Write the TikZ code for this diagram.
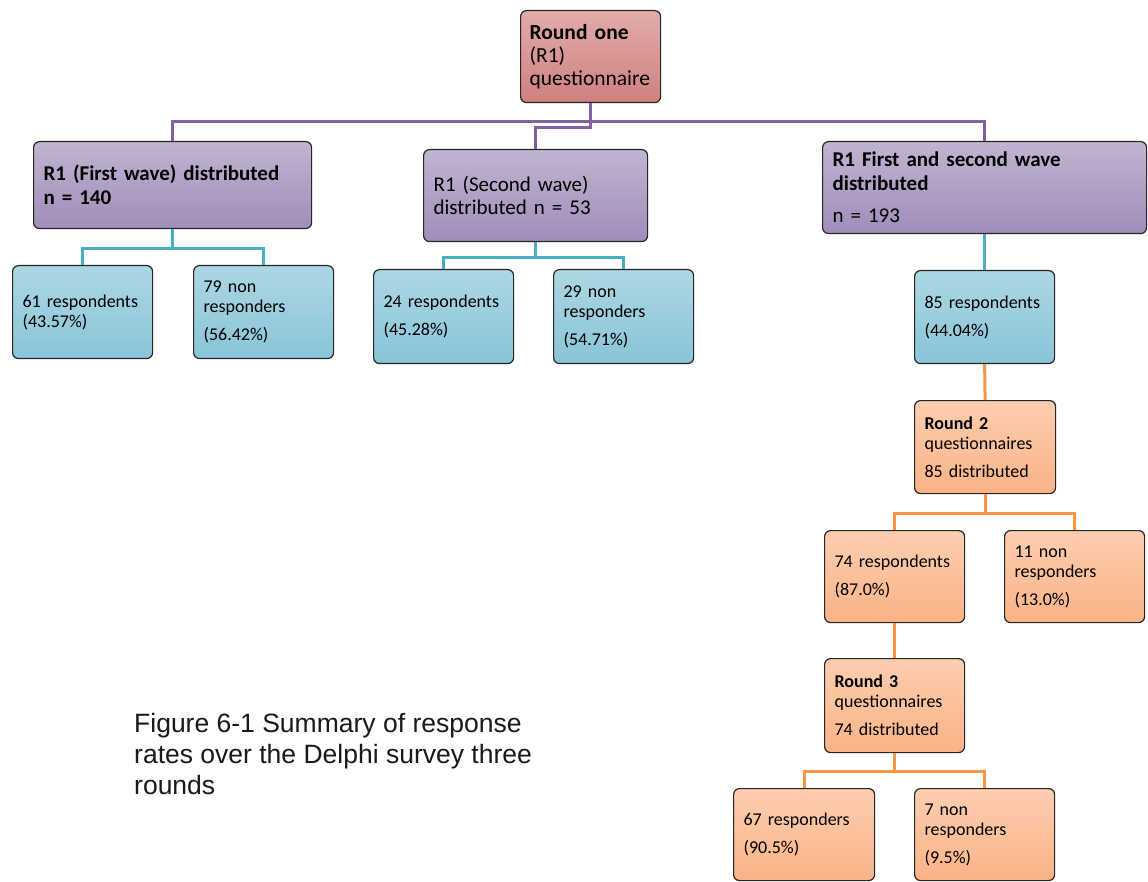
\documentclass[tikz,border=0pt]{standalone}
\usepackage{fontspec}
\setmainfont{Carlito}
\newfontfamily\capfont{Liberation Sans}
\definecolor{pinkT}{RGB}{224,172,171}
\definecolor{pinkB}{RGB}{207,128,127}
\definecolor{purT}{RGB}{194,180,208}
\definecolor{purB}{RGB}{160,140,186}
\definecolor{bluT}{RGB}{172,215,227}
\definecolor{bluB}{RGB}{137,196,216}
\definecolor{oraT}{RGB}{252,206,176}
\definecolor{oraB}{RGB}{250,178,134}
\definecolor{purL}{RGB}{128,100,162}
\definecolor{tealL}{RGB}{75,172,198}
\definecolor{oraL}{RGB}{247,150,70}
\tikzset{
  bx/.style={draw=black!85, line width=1.2pt, rounded corners=6pt, anchor=north west,
    align=left, inner xsep=10pt, inner ysep=0pt, text=black},
  pinkbx/.style={bx, top color=pinkT, bottom color=pinkB},
  purbx/.style={bx, top color=purT, bottom color=purB},
  blubx/.style={bx, top color=bluT, bottom color=bluB},
  orabx/.style={bx, top color=oraT, bottom color=oraB},
  smtxt/.style={font=\fontsize{18}{20}\selectfont},
  mdtxt/.style={font=\fontsize{21}{24}\selectfont},
  lgtxt/.style={font=\fontsize{21.5}{23}\selectfont},
  purline/.style={draw=purL, line width=3pt},
  tealline/.style={draw=tealL, line width=3pt},
  oraline/.style={draw=oraL, line width=3pt},
}
\begin{document}
\begin{tikzpicture}[x=1pt,y=-1pt]
\path[use as bounding box, fill=white] (0,0) rectangle (1148,882);

% top
\node[pinkbx, lgtxt, inner xsep=9pt, text width=122pt, minimum height=92pt] (r1) at (520,10)
  {\textbf{Round one}\\(R1)\\questionnaire};

% purple level
\node[purbx, mdtxt, text width=258pt, minimum height=87pt] (w1) at (33,141)
  {\textbf{R1 (First wave) distributed}\\\textbf{n = 140}};
\node[purbx, font=\fontsize{21}{23}\selectfont, text width=204pt, minimum height=92pt] (w2) at (423,149)
  {R1 (Second wave)\\distributed n = 53};
\node[purbx, mdtxt, text width=304pt, minimum height=92pt] (w3) at (822,141)
  {\textbf{R1 First and second wave}\\\textbf{distributed}\\[8pt]n = 193};

% blue level
\node[blubx, smtxt, text width=120pt, minimum height=93pt] (b1) at (12,265)
  {61 respondents\\(43.57\%)};
\node[blubx, smtxt, text width=120pt, minimum height=93pt] (b2) at (193,265)
  {79 non\\responders\\[8pt](56.42\%)};
\node[blubx, smtxt, text width=120pt, minimum height=94pt] (b3) at (373,269)
  {24 respondents\\[8pt](45.28\%)};
\node[blubx, smtxt, text width=120pt, minimum height=94pt] (b4) at (553,269)
  {29 non\\responders\\[8pt](54.71\%)};
\node[blubx, smtxt, text width=120pt, minimum height=93pt] (b5) at (914,270)
  {85 respondents\\[8pt](44.04\%)};

% orange levels
\node[orabx, smtxt, text width=121pt, minimum height=93pt] (o1) at (914,400)
  {\textbf{Round 2}\\questionnaires\\[8pt]85 distributed};
\node[orabx, smtxt, text width=120pt, minimum height=92pt] (o2) at (824,530)
  {74 respondents\\[8pt](87.0\%)};
\node[orabx, smtxt, text width=120pt, minimum height=92pt] (o3) at (1004,530)
  {11 non\\responders\\[8pt](13.0\%)};
\node[orabx, smtxt, text width=120pt, minimum height=94pt] (o4) at (824,658)
  {\textbf{Round 3}\\questionnaires\\[8pt]74 distributed};
\node[orabx, smtxt, text width=121pt, minimum height=92pt] (o5) at (733,788)
  {67 responders\\[8pt](90.5\%)};
\node[orabx, smtxt, text width=120pt, minimum height=92pt] (o6) at (914,788)
  {7 non\\responders\\[8pt](9.5\%)};

% caption
\node[anchor=north west, inner sep=0pt, align=left, text=black!90,
  font=\capfont\fontsize{26.5}{31}\selectfont] (cap) at (134,713)
  {Figure 6-1 Summary of response\\rates over the Delphi survey three\\rounds};

% connectors
\draw[purline] (w1.north) -- ++(0,-19) -| (w3.north);
\draw[purline] (r1.south) -- ++(0,24) -| (w2.north);

\draw[tealline] (w1.south) -- ++(0,19) coordinate (t1);
\draw[tealline] (b1.north) |- (t1) -| (b2.north);
\draw[tealline] (w2.south) -- ++(0,15) coordinate (t2);
\draw[tealline] (b3.north) |- (t2) -| (b4.north);
\draw[tealline] (w3.south) -- (b5.north);

\draw[oraline] (b5.south) -- (o1.north);
\draw[oraline] (o1.south) -- ++(0,19) coordinate (t3);
\draw[oraline] (o2.north) |- (t3) -| (o3.north);
\draw[oraline] (o2.south) -- (o4.north);
\draw[oraline] (o4.south) -- ++(0,18) coordinate (t4);
\draw[oraline] (o5.north) |- (t4) -| (o6.north);
\end{tikzpicture}
\end{document}
